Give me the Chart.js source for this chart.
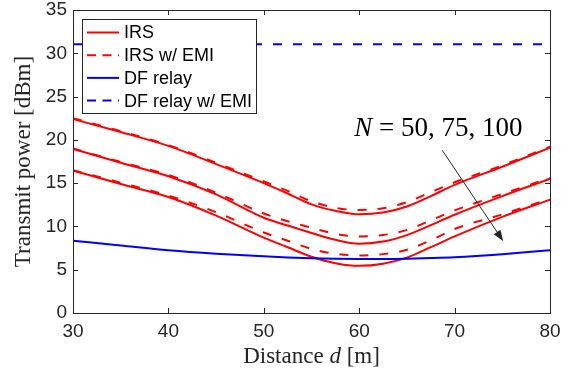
<!DOCTYPE html>
<html>
<head>
<meta charset="utf-8">
<script src="https://cdn.jsdelivr.net/npm/chart.js@4.4.0/dist/chart.umd.min.js"></script>
<style>
  html, body { margin: 0; padding: 0; background: #fff; }
</style>
</head>
<body>
<canvas id="myChart" width="575" height="375"></canvas>
<script>
'use strict';

// distance d [m]
var distance = [30, 35, 40, 45, 50, 52.5, 55, 57.5, 60, 62.5, 65, 67.5, 70, 75, 80];

// transmit power [dBm]
var irs50     = [22.4, 20.9, 19.3, 17.2, 15.0, 13.8, 12.55, 11.8, 11.4, 11.6, 12.3, 13.5, 14.8, 16.9, 19.1];
var irs50Emi  = [22.5, 21.0, 19.4, 17.35, 15.2, 14.1, 12.9, 12.15, 11.9, 12.1, 12.8, 13.95, 15.1, 17.05, 19.2];
var irs75     = [18.95, 17.35, 15.8, 13.7, 11.0, 10.1, 9.25, 8.45, 8.0, 8.25, 9.0, 10.15, 11.35, 13.5, 15.5];
var irs75Emi  = [19.0, 17.45, 15.95, 13.9, 11.5, 10.6, 9.85, 9.15, 8.85, 9.0, 9.6, 10.7, 11.85, 13.75, 15.6];
var irs100    = [16.45, 14.9, 13.4, 11.25, 8.7, 7.6, 6.5, 5.75, 5.45, 5.7, 6.4, 7.6, 8.85, 11.1, 13.1];
var irs100Emi = [16.5, 15.05, 13.55, 11.65, 9.3, 8.35, 7.4, 6.85, 6.65, 6.8, 7.3, 8.4, 9.7, 11.4, 13.2];
var dfRelay   = [8.36, 7.8, 7.25, 6.85, 6.55, 6.42, 6.32, 6.27, 6.25, 6.25, 6.28, 6.35, 6.45, 6.8, 7.25];
var dfRelayEmi = [31.05, 31.05, 31.05, 31.05, 31.05, 31.05, 31.05, 31.05, 31.05, 31.05, 31.05, 31.05, 31.05, 31.05, 31.05];

var xTicks = [30, 40, 50, 60, 70, 80];
var yTicks = [0, 5, 10, 15, 20, 25, 30, 35];

var legendLabels = ['IRS', 'IRS w/ EMI', 'DF relay', 'DF relay w/ EMI'];

var RED = '#ff0000';
var BLUE = '#0000ff';
var AXIS = '#262626';
var DASH = [9, 11];

var toPoints = function (ys) {
  return distance.map(function (d, i) { return {x: d, y: ys[i]}; });
};

var line = function (ys, color, dashed) {
  return {
    data: toPoints(ys),
    borderColor: color,
    borderWidth: 2,
    borderDash: dashed ? DASH : [],
    pointRadius: 0,
    fill: false,
    cubicInterpolationMode: 'monotone'
  };
};

// frame with MATLAB style inner ticks on all four sides
var framePlugin = {
  id: 'frame',
  afterDatasetsDraw: function (chart) {
    var ctx = chart.ctx;
    var a = chart.chartArea;
    var xs = chart.scales.x, ys = chart.scales.y;
    var tl = 5;
    ctx.save();
    ctx.strokeStyle = AXIS;
    ctx.lineWidth = 1;
    ctx.beginPath();
    xTicks.forEach(function (t) {
      var px = Math.round(xs.getPixelForValue(t)) + 0.5;
      ctx.moveTo(px, a.bottom); ctx.lineTo(px, a.bottom - tl);
      ctx.moveTo(px, a.top); ctx.lineTo(px, a.top + tl);
    });
    yTicks.forEach(function (t) {
      var py = Math.round(ys.getPixelForValue(t)) + 0.5;
      ctx.moveTo(a.left, py); ctx.lineTo(a.left + tl, py);
      ctx.moveTo(a.right, py); ctx.lineTo(a.right - tl, py);
    });
    ctx.stroke();
    ctx.strokeRect(Math.round(a.left) + 0.5, Math.round(a.top) + 0.5,
                   Math.round(a.right - a.left), Math.round(a.bottom - a.top));
    ctx.restore();
  }
};

// axis titles, the N annotation with its arrow, and the legend box
var textPlugin = {
  id: 'texts',
  afterDraw: function (chart) {
    var ctx = chart.ctx;
    var a = chart.chartArea;
    var xs = chart.scales.x, ys = chart.scales.y;
    ctx.save();
    ctx.fillStyle = AXIS;
    ctx.textBaseline = 'middle';

    // x title with italic d
    var serif = '"Liberation Serif", "Times New Roman", serif';
    var parts = [['Distance ', 'normal'], ['d', 'italic'], [' [m]', 'normal']];
    var w = 0;
    parts.forEach(function (p) { ctx.font = p[1] + ' 23px ' + serif; w += ctx.measureText(p[0]).width; });
    var x0 = (a.left + a.right) / 2 - w / 2;
    ctx.textAlign = 'left';
    parts.forEach(function (p) {
      ctx.font = p[1] + ' 23px ' + serif;
      ctx.fillText(p[0], x0, 357);
      x0 += ctx.measureText(p[0]).width;
    });

    // y title
    ctx.save();
    ctx.translate(24, (a.top + a.bottom) / 2);
    ctx.rotate(-Math.PI / 2);
    ctx.textAlign = 'center';
    ctx.font = '23px ' + serif;
    ctx.fillText('Transmit power [dBm]', 0, 0);
    ctx.restore();

    // annotation N = 50, 75, 100
    ctx.fillStyle = '#000';
    var ann = [['N', 'italic'], [' = 50, 75, 100', 'normal']];
    w = 0;
    ann.forEach(function (p) { ctx.font = p[1] + ' 27px ' + serif; w += ctx.measureText(p[0]).width; });
    x0 = xs.getPixelForValue(68.3) - w / 2;
    var ty = ys.getPixelForValue(21.3);
    ann.forEach(function (p) {
      ctx.font = p[1] + ' 27px ' + serif;
      ctx.fillText(p[0], x0, ty);
      x0 += ctx.measureText(p[0]).width;
    });

    // arrow
    var ax0 = xs.getPixelForValue(68.7), ay0 = ys.getPixelForValue(18.8);
    var ax1 = xs.getPixelForValue(75.1), ay1 = ys.getPixelForValue(8.3);
    var ang = Math.atan2(ay1 - ay0, ax1 - ax0);
    var hl = 11, hw = 4;
    ctx.strokeStyle = AXIS;
    ctx.fillStyle = AXIS;
    ctx.lineWidth = 1;
    ctx.beginPath();
    ctx.moveTo(ax0, ay0);
    ctx.lineTo(ax1 - hl * Math.cos(ang), ay1 - hl * Math.sin(ang));
    ctx.stroke();
    ctx.beginPath();
    ctx.moveTo(ax1, ay1);
    ctx.lineTo(ax1 - hl * Math.cos(ang) + hw * Math.sin(ang), ay1 - hl * Math.sin(ang) - hw * Math.cos(ang));
    ctx.lineTo(ax1 - hl * Math.cos(ang) - hw * Math.sin(ang), ay1 - hl * Math.sin(ang) + hw * Math.cos(ang));
    ctx.closePath();
    ctx.fill();

    // legend box
    var lx = a.left + 9, ly = a.top + 9, lw = 174, lh = 94;
    ctx.fillStyle = '#fff';
    ctx.fillRect(lx, ly, lw, lh);
    ctx.strokeStyle = AXIS;
    ctx.strokeRect(Math.round(lx) + 0.5, Math.round(ly) + 0.5, lw, lh);
    var styles = [[RED, false], [RED, true], [BLUE, false], [BLUE, true]];
    ctx.font = '18px "Liberation Sans", Arial, sans-serif';
    ctx.textAlign = 'left';
    legendLabels.forEach(function (lab, i) {
      var ry = ly + 13.5 + i * 22.7;
      ctx.strokeStyle = styles[i][0];
      ctx.lineWidth = 2;
      ctx.setLineDash(styles[i][1] ? [9, 6.5] : []);
      ctx.beginPath();
      ctx.moveTo(lx + 5, ry);
      ctx.lineTo(lx + 37, ry);
      ctx.stroke();
      ctx.setLineDash([]);
      ctx.fillStyle = '#000';
      ctx.fillText(lab, lx + 42, ry + 1);
    });
    ctx.restore();
  }
};

var tickFont = {family: '"Liberation Sans", Arial, sans-serif', size: 19};

var ctx = document.getElementById('myChart').getContext('2d');
var myChart = new Chart(ctx, {
  type: 'line',
  data: {
    datasets: [
      line(dfRelay, BLUE, false),
      line(irs50, RED, false),
      line(irs50Emi, RED, true),
      line(irs75, RED, false),
      line(irs75Emi, RED, true),
      line(irs100, RED, false),
      line(irs100Emi, RED, true),
      line(dfRelayEmi, BLUE, true)
    ]
  },
  options: {
    responsive: false,
    animation: false,
    devicePixelRatio: 1,
    layout: {padding: {top: 10, right: 25, left: 0, bottom: 0}},
    plugins: {legend: {display: false}, tooltip: {enabled: false}},
    scales: {
      x: {
        type: 'linear', min: 30, max: 80,
        afterFit: function (s) { s.height = 62; s.paddingLeft = 0; s.paddingRight = 0; },
        afterBuildTicks: function (s) { s.ticks = xTicks.map(function (v) { return {value: v}; }); },
        grid: {display: false, drawTicks: false},
        border: {display: false},
        ticks: {font: tickFont, color: AXIS, padding: 7, maxRotation: 0}
      },
      y: {
        type: 'linear', min: 0, max: 35,
        afterFit: function (s) { s.width = 73; s.paddingTop = 0; s.paddingBottom = 0; },
        afterBuildTicks: function (s) { s.ticks = yTicks.map(function (v) { return {value: v}; }); },
        grid: {display: false, drawTicks: false},
        border: {display: false},
        ticks: {font: tickFont, color: AXIS, padding: 6}
      }
    }
  },
  plugins: [framePlugin, textPlugin]
});
</script>
</body>
</html>
